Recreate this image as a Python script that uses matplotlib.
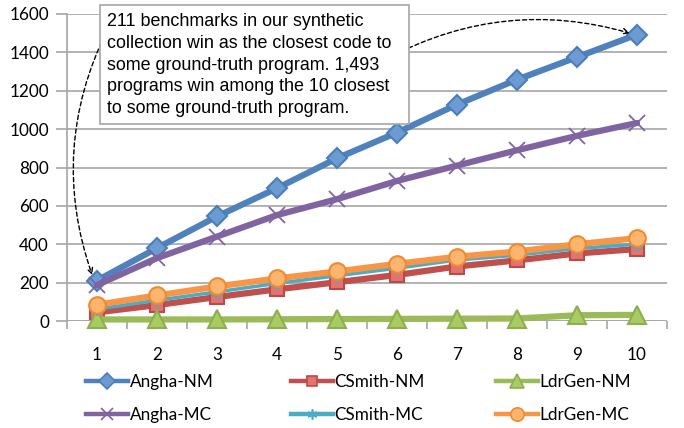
import matplotlib
matplotlib.use("Agg")
import matplotlib.pyplot as plt
import numpy as np
from matplotlib.lines import Line2D
from matplotlib.patches import Rectangle

x = [1, 2, 3, 4, 5, 6, 7, 8, 9, 10]
angha_nm = [211, 380, 545, 692, 848, 982, 1128, 1258, 1375, 1493]
csmith_nm = [45, 83, 125, 165, 202, 240, 284, 316, 352, 375]
ldrgen_nm = [8, 8, 8, 9, 10, 11, 12, 13, 30, 32]
angha_mc = [187, 328, 440, 552, 635, 730, 810, 890, 965, 1032]
csmith_mc = [62, 108, 152, 196, 236, 275, 318, 343, 378, 400]
ldrgen_mc = [85, 133, 180, 222, 258, 298, 335, 362, 400, 432]
labels = ["Angha-NM", "CSmith-NM", "LdrGen-NM", "Angha-MC", "CSmith-MC", "LdrGen-MC"]
yticks = [0, 200, 400, 600, 800, 1000, 1200, 1400, 1600]
note = ("211 benchmarks in our synthetic\ncollection win as the closest code to\n"
        "some ground-truth program. 1,493\nprograms win among the 10 closest\n"
        "to some ground-truth program.")

W, H = 684, 428
fig = plt.figure(figsize=(W / 100, H / 100), dpi=100)
ax = fig.add_axes([67 / W, (H - 321) / H, 600 / W, 307 / H])
ax.set_xlim(0.5, 10.5)
ax.set_ylim(0, 1600)

grid_c = "#A6A6A6"
for v in yticks:
    ax.axhline(v, color=grid_c, lw=1.2, zorder=0)
for s in ["top", "right", "bottom"]:
    ax.spines[s].set_visible(False)
ax.spines["left"].set_color(grid_c)
ax.spines["left"].set_linewidth(1.2)

tfont = dict(family=["Lato", "DejaVu Sans"])
ax.set_yticks(yticks)
ax.set_yticklabels([str(v) for v in yticks], fontsize=12.3, **tfont)
ax.tick_params(axis="y", length=8, color=grid_c, width=1.2, pad=5)
ax.set_xticks(x)
ax.set_xticklabels([str(v) for v in x], fontsize=12.3, **tfont)
ax.tick_params(axis="x", which="major", length=0, pad=19)
ax.set_xticks(np.arange(0.5, 11, 1), minor=True)
ax.tick_params(axis="x", which="minor", length=6, color=grid_c, width=1.2, direction="out")
ax.axhline(0, color=grid_c, lw=1.2, zorder=1)

series = [
    (angha_nm, "#4F81BD", "D", "#6C9BD2", "#4A7EBB", 10, 4.5),
    (csmith_nm, "#C0504D", "s", "#E4726F", "#B94A48", 9.5, 4.5),
    (ldrgen_nm, "#9BBB59", "^", "#A9CB64", "#8EAF4E", 12.5, 4.5),
    (angha_mc, "#8064A2", "x", "#8064A2", "#8064A2", 11, 4.5),
    (csmith_mc, "#4BACC6", (6, 2, 0), "#4BACC6", "#4BACC6", 9, 2.5),
    (ldrgen_mc, "#F79646", "o", "#FBB56E", "#F08A30", 12, 4.5),
]
order = [3, 2, 1, 4, 5, 0]
for i in order:
    ys, c, m, mfc, mec, ms, lw = series[i]
    ax.plot(x, ys, color=c, lw=lw, marker=m, markersize=ms, markerfacecolor=mfc,
            markeredgecolor=mec, markeredgewidth=1.5 if m != "x" else 1.3,
            zorder=3 + i, solid_capstyle="round", clip_on=False)

# legend: three columns, each its own legend with two rows
col_x = [74, 279, 484]
for col in range(3):
    hs, ls = [], []
    for k in (col, col + 3):
        ys, c, m, mfc, mec, ms, lw = series[k]
        hs.append(Line2D([0], [0], color=c, lw=3.2, marker=m, markersize=ms * 0.8,
                         markerfacecolor=mfc, markeredgecolor=mec, markeredgewidth=1.2))
        ls.append(labels[k])
    lg = fig.legend(hs, ls, loc="upper left", bbox_to_anchor=(col_x[col] / W, (H - 362) / H),
                    frameon=False, handlelength=2.45, handletextpad=0.1, borderpad=0.2,
                    labelspacing=1.0, prop=dict(family=["Lato", "DejaVu Sans"], size=12.3))

# annotation box
fig.patches.append(Rectangle((100 / W, (H - 124) / H), 309 / W, 119 / H, transform=fig.transFigure,
                             fc="white", ec="#A6A6A6", lw=1.2, zorder=20))
fig.text(107 / W, (H - 13) / H, note, fontsize=12.9, family=["Liberation Sans", "DejaVu Sans"],
         va="top", ha="left", linespacing=1.37, zorder=21)

# arrows
ax.annotate("", xy=(0.92, 240), xytext=(1.17, 1516),
            arrowprops=dict(arrowstyle="->", ls=(0, (3, 2)), lw=1.0, color="black",
                            connectionstyle="arc3,rad=0.21", shrinkA=0, shrinkB=0), zorder=22)
ax.annotate("", xy=(9.88, 1500), xytext=(5.88, 1375),
            arrowprops=dict(arrowstyle="->", ls=(0, (3, 2)), lw=1.0, color="black",
                            connectionstyle="arc3,rad=-0.2", shrinkA=0, shrinkB=0), zorder=22)

fig.savefig("out.png", dpi=100)
